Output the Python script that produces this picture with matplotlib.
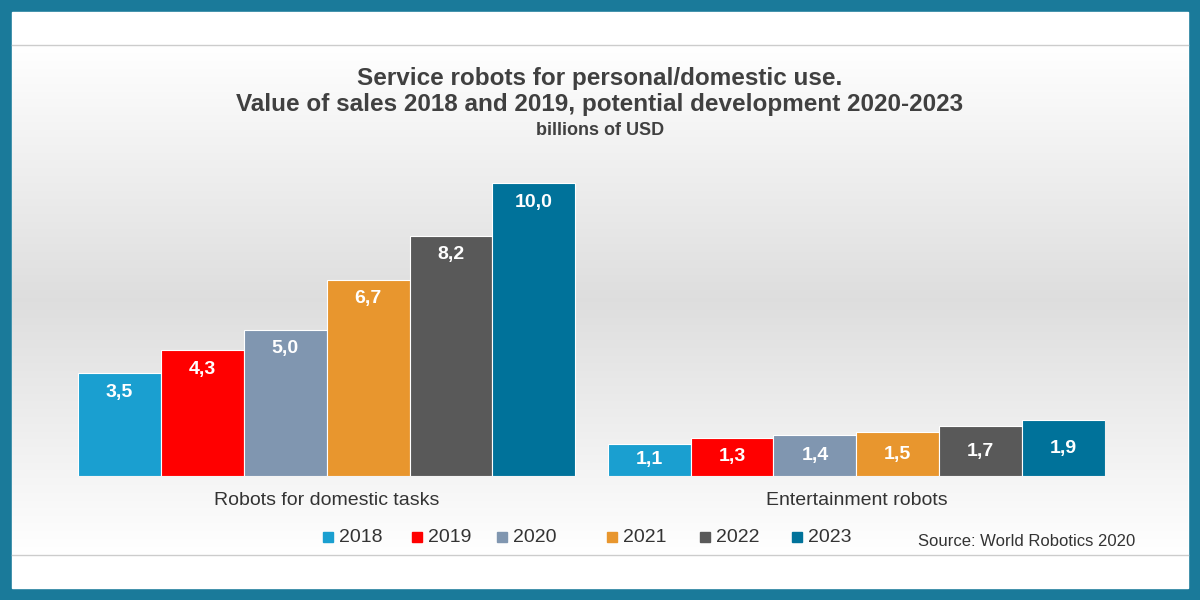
import numpy as np
import matplotlib.pyplot as plt
from matplotlib.patches import Rectangle

plt.rcParams['font.family'] = ['Liberation Sans', 'DejaVu Sans']

categories = ["Robots for domestic tasks", "Entertainment robots"]
years = ["2018", "2019", "2020", "2021", "2022", "2023"]
values = {
    "2018": [3.5, 1.1],
    "2019": [4.3, 1.3],
    "2020": [5.0, 1.4],
    "2021": [6.7, 1.5],
    "2022": [8.2, 1.7],
    "2023": [10.0, 1.9],
}
colors = ["#1a9fd0", "#ff0000", "#8096b0", "#e8962e", "#595959", "#00729a"]

fig = plt.figure(figsize=(12, 6), dpi=100)
fig.patch.set_facecolor("#1a7a9a")

# background panels
bg = fig.add_axes([0, 0, 1, 1])
bg.axis("off")
bg.add_patch(Rectangle((12, 12), 1176, 576, color="white", zorder=0))
grad = np.concatenate([np.linspace(1.0, 0.87, 128), np.linspace(0.87, 1.0, 128)]).reshape(-1, 1)
bg.imshow(np.dstack([grad, grad, grad]), extent=(12, 1188, 555, 45), aspect="auto", zorder=1)
bg.plot([12, 1188], [45, 45], color="#cccccc", lw=1, zorder=2)
bg.plot([12, 1188], [555, 555], color="#cccccc", lw=1, zorder=2)
bg.set_xlim(0, 1200); bg.set_ylim(600, 0)

w = 83 / 530.5
ax = fig.add_axes([78 / 1200, 1 - 476 / 600, (1105 - 78) / 1200, 293 / 600])
ax.set_xlim(-3 * w, 1 + 3 * w)
ax.set_ylim(0, 10)
ax.axis("off")
x = np.arange(len(categories))
for i, (yr, c) in enumerate(zip(years, colors)):
    pos = x + (i - 2.5) * w
    ax.bar(pos, values[yr], width=w, color=c, align="center", edgecolor="white", linewidth=0.8)
    for p, v in zip(pos, values[yr]):
        ax.text(p, v - 0.65 if v > 2 else v / 2, f"{v:.1f}".replace(".", ","),
                ha="center", va="center", color="white", fontsize=14, fontweight="bold")
for xi, cat in zip(x, categories):
    ax.text(xi, -0.85, cat, ha="center", va="center", fontsize=14, color="#333333")

fig.text(0.5, 0.848, "Service robots for personal/domestic use.\nValue of sales 2018 and 2019, potential development 2020-2023",
         ha="center", va="center", fontsize=17.5, fontweight="bold", color="#404040", linespacing=1.15)
fig.text(0.5, 0.783, "billions of USD", ha="center", va="center", fontsize=13, fontweight="bold", color="#404040")

lx = [323, 412, 497, 607, 700, 792]
for px, yr, c in zip(lx, years, colors):
    bg.add_patch(Rectangle((px, 532), 10, 10, color=c, zorder=3))
    bg.text(px + 16, 537, yr, va="center", fontsize=14, color="#333333", zorder=3)
bg.text(1135, 542, "Source: World Robotics 2020", ha="right", va="center", fontsize=12, color="#333333", zorder=3)

fig.savefig("out.png", dpi=100, facecolor=fig.get_facecolor())
